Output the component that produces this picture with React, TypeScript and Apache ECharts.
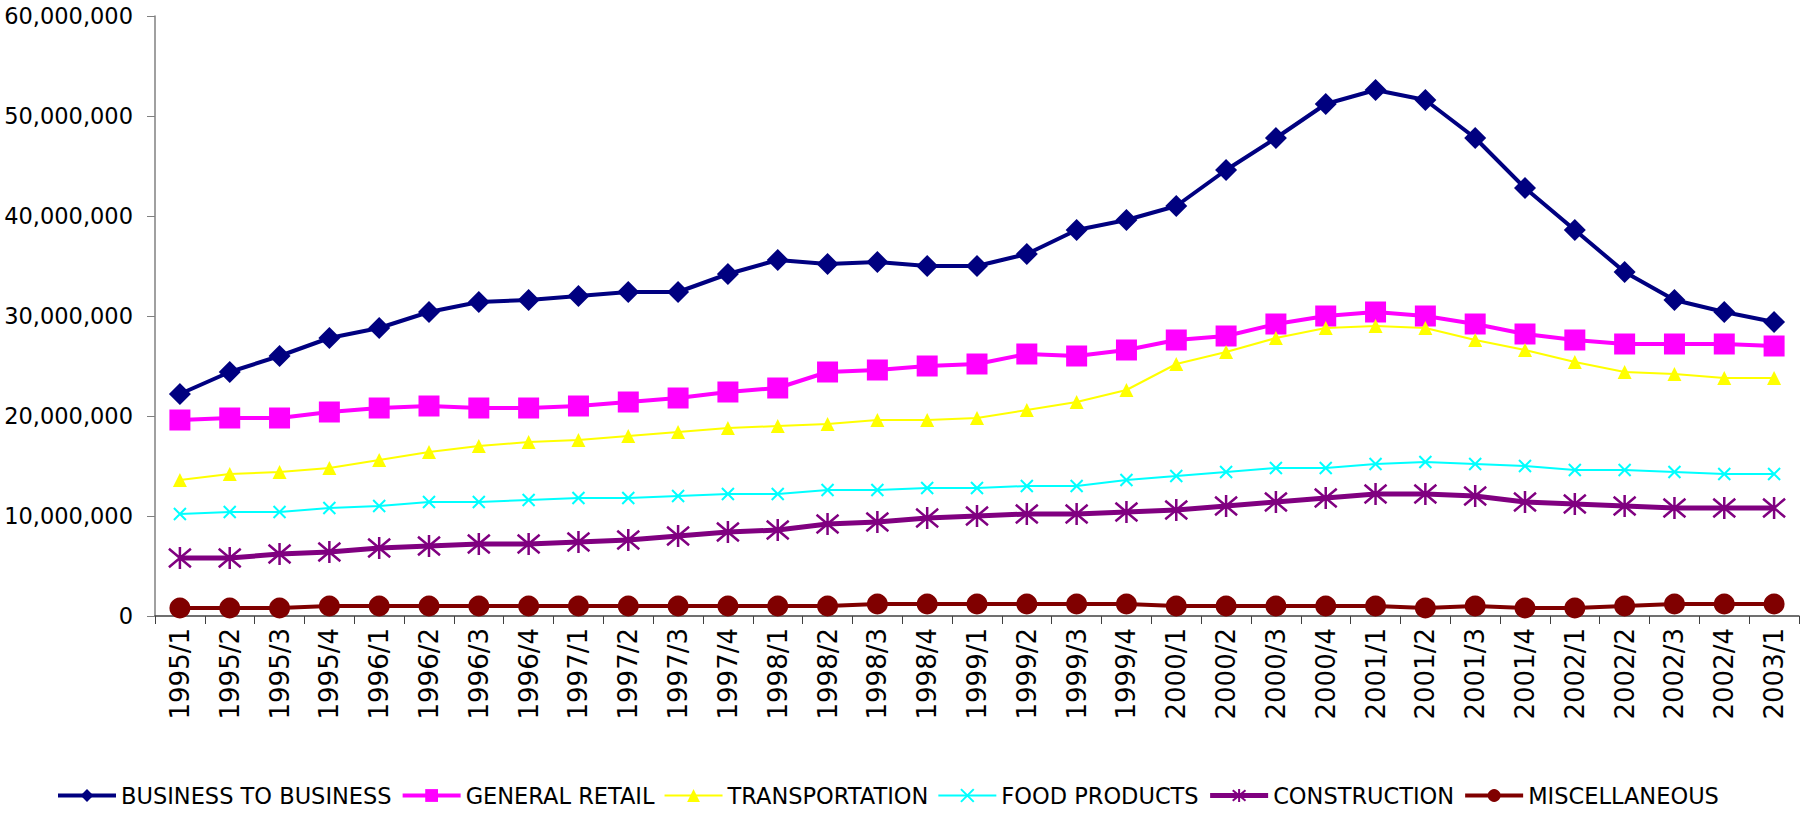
import React, { useEffect, useRef } from "react";
import * as echarts from "echarts";

const categories = [
  "1995/1", "1995/2", "1995/3", "1995/4",
  "1996/1", "1996/2", "1996/3", "1996/4",
  "1997/1", "1997/2", "1997/3", "1997/4",
  "1998/1", "1998/2", "1998/3", "1998/4",
  "1999/1", "1999/2", "1999/3", "1999/4",
  "2000/1", "2000/2", "2000/3", "2000/4",
  "2001/1", "2001/2", "2001/3", "2001/4",
  "2002/1", "2002/2", "2002/3", "2002/4",
  "2003/1",
];

// values in millions
const businessToBusiness = [
  22.2, 24.4, 26.0, 27.8, 28.8, 30.4, 31.4, 31.6, 32.0, 32.4, 32.4, 34.2,
  35.6, 35.2, 35.4, 35.0, 35.0, 36.2, 38.6, 39.6, 41.0, 44.6, 47.8, 51.2,
  52.6, 51.6, 47.8, 42.8, 38.6, 34.4, 31.6, 30.4, 29.4,
];
const generalRetail = [
  19.6, 19.8, 19.8, 20.4, 20.8, 21.0, 20.8, 20.8, 21.0, 21.4, 21.8, 22.4,
  22.8, 24.4, 24.6, 25.0, 25.2, 26.2, 26.0, 26.6, 27.6, 28.0, 29.2, 30.0,
  30.4, 30.0, 29.2, 28.2, 27.6, 27.2, 27.2, 27.2, 27.0,
];
const transportation = [
  13.6, 14.2, 14.4, 14.8, 15.6, 16.4, 17.0, 17.4, 17.6, 18.0, 18.4, 18.8,
  19.0, 19.2, 19.6, 19.6, 19.8, 20.6, 21.4, 22.6, 25.2, 26.4, 27.8, 28.8,
  29.0, 28.8, 27.6, 26.6, 25.4, 24.4, 24.2, 23.8, 23.8,
];
const foodProducts = [
  10.2, 10.4, 10.4, 10.8, 11.0, 11.4, 11.4, 11.6, 11.8, 11.8, 12.0, 12.2,
  12.2, 12.6, 12.6, 12.8, 12.8, 13.0, 13.0, 13.6, 14.0, 14.4, 14.8, 14.8,
  15.2, 15.4, 15.2, 15.0, 14.6, 14.6, 14.4, 14.2, 14.2,
];
const construction = [
  5.8, 5.8, 6.2, 6.4, 6.8, 7.0, 7.2, 7.2, 7.4, 7.6, 8.0, 8.4,
  8.6, 9.2, 9.4, 9.8, 10.0, 10.2, 10.2, 10.4, 10.6, 11.0, 11.4, 11.8,
  12.2, 12.2, 12.0, 11.4, 11.2, 11.0, 10.8, 10.8, 10.8,
];
const miscellaneous = [
  0.8, 0.8, 0.8, 1.0, 1.0, 1.0, 1.0, 1.0, 1.0, 1.0, 1.0, 1.0,
  1.0, 1.0, 1.2, 1.2, 1.2, 1.2, 1.2, 1.2, 1.0, 1.0, 1.0, 1.0,
  1.0, 0.8, 1.0, 0.8, 0.8, 1.0, 1.2, 1.2, 1.2,
];

const seriesNames = [
  "BUSINESS TO BUSINESS",
  "GENERAL RETAIL",
  "TRANSPORTATION",
  "FOOD PRODUCTS",
  "CONSTRUCTION",
  "MISCELLANEOUS",
];
const seriesColors = ["#000080", "#FF00FF", "#FFFF00", "#00FFFF", "#800080", "#800000"];
const lineWidths = [4, 4, 2, 2, 5, 4];

const FONT = "'DejaVu Sans', 'Liberation Sans', sans-serif";

export default function App() {
  const ref = useRef<HTMLDivElement>(null);

  useEffect(() => {
    document.body.style.margin = "0";
    if (!ref.current) return;
    const chart = echarts.init(ref.current, null, { renderer: "svg" });
    const toUnits = (arr: number[]) => arr.map((v) => Math.round(v * 1e6));

    const mk = (
      idx: number,
      data: number[],
      symbol: string,
      symbolSize: number,
      stroke?: number
    ) => {
      const color = seriesColors[idx];
      return {
        name: seriesNames[idx],
        type: "line",
        data: toUnits(data),
        symbol,
        symbolSize,
        showAllSymbol: true,
        lineStyle: { color, width: lineWidths[idx] },
        itemStyle: stroke
          ? { color: color, borderColor: color, borderWidth: stroke }
          : { color, borderWidth: 0 },
        emphasis: { disabled: true },
      };
    };

    chart.setOption({
      animation: false,
      backgroundColor: "#ffffff",
      textStyle: { fontFamily: FONT },
      grid: { left: 155, right: 11, top: 16, bottom: 199, containLabel: false },
      legend: {
        left: 56,
        top: 784,
        itemWidth: 58,
        itemHeight: 16,
        itemGap: 9,
        padding: 0,
        textStyle: { fontFamily: FONT, fontSize: 22.5, color: "#000" },
        data: seriesNames.map((name, i) => ({
          name,
          lineStyle: { width: lineWidths[i], color: seriesColors[i] },
        })),
      },
      xAxis: {
        type: "category",
        data: categories,
        boundaryGap: true,
        axisLine: { lineStyle: { color: "#404040", width: 1.5 } },
        axisTick: { show: true, length: 8, lineStyle: { color: "#404040" } },
        axisLabel: {
          rotate: 90,
          interval: 0,
          margin: 12,
          fontFamily: FONT,
          fontSize: 26,
          color: "#000",
        },
        splitLine: { show: false },
      },
      yAxis: {
        type: "value",
        min: 0,
        max: 60000000,
        interval: 10000000,
        axisLine: { show: true, lineStyle: { color: "#808080", width: 1.5 } },
        axisTick: { show: true, length: 8, lineStyle: { color: "#808080" } },
        axisLabel: {
          margin: 22,
          fontFamily: FONT,
          fontSize: 22.5,
          color: "#000",
          formatter: (v: number) => v.toLocaleString("en-US"),
        },
        splitLine: { show: false },
      },
      series: [
        mk(0, businessToBusiness, "diamond", 22),
        mk(1, generalRetail, "rect", 21),
        mk(2, transportation, "triangle", 14),
        mk(3, foodProducts, "path://M0 0L10 10M10 0L0 10", 12, 2),
        mk(4, construction, "path://M0 0L10 10M10 0L0 10M5 -1L5 11", 22, 2.5),
        mk(5, miscellaneous, "circle", 21),
      ],
    });

    return () => chart.dispose();
  }, []);

  return <div ref={ref} style={{ width: 1810, height: 815 }} />;
}
